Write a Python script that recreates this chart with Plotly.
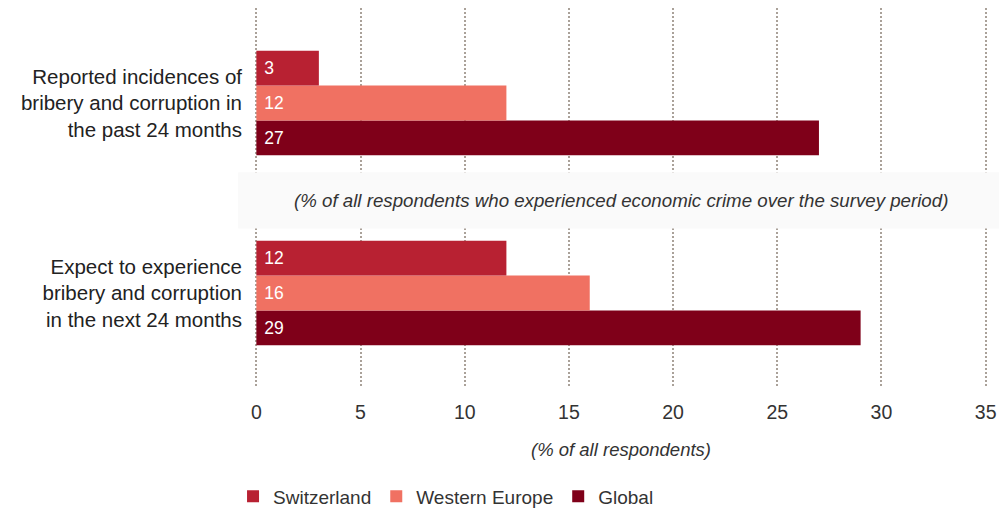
import plotly.graph_objects as go

# Survey questions (top to bottom) and values per region, in % of respondents
questions = [
    "Reported incidences of<br>bribery and corruption in<br>the past 24 months",
    "Expect to experience<br>bribery and corruption<br>in the next 24 months",
]
regions = ["Switzerland", "Western Europe", "Global"]
switzerland = [3, 12]
western_europe = [12, 16]
global_ = [27, 29]
x_ticks = [0, 5, 10, 15, 20, 25, 30, 35]

colors = {
    "Switzerland": "#b82132",
    "Western Europe": "#f07162",
    "Global": "#7f0019",
}
series = {
    "Switzerland": switzerland,
    "Western Europe": western_europe,
    "Global": global_,
}

# numeric y positions: first question on top
y_pos = [1, 0]

fig = go.Figure()
# grouped horizontal bars stack bottom-up, so add Global first
for name in reversed(regions):
    vals = series[name]
    fig.add_trace(go.Bar(
        name=name,
        y=y_pos,
        x=vals,
        orientation="h",
        marker=dict(color=colors[name], line=dict(width=0)),
        text=[str(v) for v in vals],
        textposition="inside",
        insidetextanchor="start",
        insidetextfont=dict(color="white", size=17.5, family="Liberation Sans"),
        texttemplate=" %{text}",
        cliponaxis=False,
        hoverinfo="skip",
    ))

# light band separating the two question groups
fig.add_shape(
    type="rect", xref="paper", yref="y",
    x0=-0.023, x1=1.02, y0=0.339, y1=0.635,
    fillcolor="#fafafa", line=dict(width=0), layer="above",
)
fig.add_annotation(
    xref="paper", yref="y", x=0.5, y=0.487,
    text="<i>(% of all respondents who experienced economic crime over the survey period)</i>",
    showarrow=False,
    font=dict(size=18.7, color="#333333", family="Liberation Sans"),
)

fig.update_layout(
    width=999, height=508,
    margin=dict(l=255, r=12, t=8, b=120, autoexpand=False),
    paper_bgcolor="white",
    plot_bgcolor="white",
    barmode="group",
    bargap=0.45,
    bargroupgap=0,
    font=dict(family="Liberation Sans", color="#333333"),
    showlegend=True,
    legend=dict(
        orientation="h",
        traceorder="reversed",
        x=-0.03, xanchor="left",
        y=-0.285, yanchor="middle",
        font=dict(size=19, color="#333333"),
        itemwidth=30,
    ),
    xaxis=dict(
        # small padding so the gridlines at 0 and 35 are not clipped
        range=[-0.065, 35.065],
        tickvals=x_ticks,
        ticktext=[str(t) for t in x_ticks],
        showgrid=True,
        gridcolor="#aaa199",
        gridwidth=2,
        griddash="2px,2px",
        zeroline=False,
        showline=False,
        ticks="",
        tickfont=dict(size=19.5, color="#333333"),
        ticklabelstandoff=10,
        automargin=False,
        title=dict(
            text="<i>(% of all respondents)</i>",
            font=dict(size=18.5, color="#333333"),
            standoff=21,
        ),
        fixedrange=True,
    ),
    yaxis=dict(
        range=[-0.5, 1.5],
        tickvals=y_pos,
        ticktext=questions,
        showgrid=False,
        zeroline=False,
        showline=False,
        ticks="",
        tickfont=dict(size=20.5, color="#222222"),
        ticklabelstandoff=12,
        automargin=False,
        fixedrange=True,
    ),
)

fig.write_html("out.html")
